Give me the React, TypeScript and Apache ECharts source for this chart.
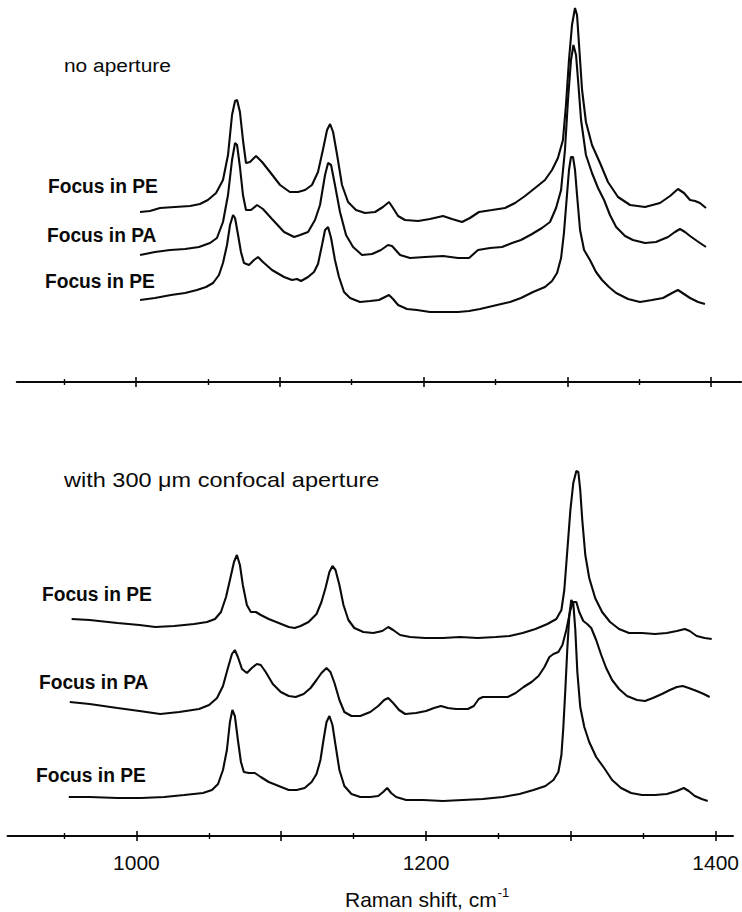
import React, { useEffect, useRef } from 'react';
import * as echarts from 'echarts';

// ---- axis ticks (Raman shift, cm-1) ----
const majorTicks = [1000, 1100, 1200, 1300, 1400];
const minorTicks = [950, 1050, 1150, 1250, 1350];
const labeledTicks = [1000, 1200, 1400];

// ---- panel titles and trace labels ----
const topTitle = 'no aperture';
const bottomTitle = 'with 300 \u03bcm confocal aperture';
const topLabels = ['Focus in PE', 'Focus in PA', 'Focus in PE'];
const bottomLabels = ['Focus in PE', 'Focus in PA', 'Focus in PE'];
const xAxisTitle = 'Raman shift, cm';
const xAxisTitleSup = '-1';

// ---- spectra: [Raman shift cm-1, intensity a.u. (stacked, offset included)] ----
const topPE1: [number, number][] = [
  [1002.8, 170], [1009.7, 171], [1016.7, 174], [1027, 175], [1037.6, 176], [1044.5, 178], [1050, 182],
  [1055.7, 189], [1060.5, 202], [1064, 227], [1066.8, 267], [1068.9, 281], [1070.3, 282], [1072.3, 270],
  [1074.4, 242], [1076.5, 219], [1079.3, 220], [1083.5, 226], [1087.7, 220], [1093.2, 210], [1100.2, 197],
  [1107, 190], [1112.7, 190], [1117.6, 192], [1122.4, 197], [1126.6, 210], [1130, 232], [1132.9, 252],
  [1135, 258], [1137.1, 250], [1139.9, 227], [1143.3, 197], [1147.5, 180], [1153, 172], [1159.3, 169],
  [1166.3, 170], [1171.8, 175], [1176, 180], [1178.8, 174], [1182.3, 166], [1187.1, 162], [1196.2, 161],
  [1204.5, 163], [1213.6, 166], [1219.8, 163], [1226.8, 160], [1232.3, 164], [1238.6, 170], [1247.7, 172],
  [1256.7, 174], [1263.7, 179], [1270.6, 186], [1277.6, 194], [1284.5, 202], [1289.4, 212], [1293.5, 224],
  [1297, 242], [1299.1, 277], [1301.2, 322], [1303.3, 357], [1305.4, 374], [1306.8, 367], [1308.2, 337],
  [1310.3, 292], [1313, 260], [1317.2, 237], [1322.8, 219], [1328.3, 200], [1335.3, 185], [1343.7, 177],
  [1354.1, 175], [1364.5, 179], [1371.5, 186], [1377, 193], [1381.2, 189], [1385.4, 182], [1388.9, 181],
  [1392.3, 179], [1396.5, 174],
];
const topPA: [number, number][] = [
  [1002.8, 127], [1013.2, 130], [1023.7, 132], [1034.1, 133], [1043.8, 135], [1051.5, 139], [1056.3, 144],
  [1060.5, 160], [1064, 187], [1066.8, 222], [1068.9, 239], [1070.3, 237], [1072.3, 215], [1074.4, 187],
  [1076.5, 172], [1080, 172], [1084.2, 177], [1088.3, 173], [1094.6, 163], [1103, 150], [1110, 145],
  [1114.1, 147], [1119.7, 150], [1124.5, 162], [1128, 177], [1131.5, 207], [1133.6, 219], [1135.7, 217],
  [1138.4, 197], [1141.9, 170], [1146.1, 147], [1151, 135], [1157.2, 127], [1164.2, 128], [1170.4, 132],
  [1175.3, 137], [1178.1, 136], [1183.7, 127], [1190.6, 124], [1201, 125], [1213.6, 126], [1224, 124],
  [1231.7, 124], [1237.9, 132], [1246.3, 134], [1254.6, 135], [1261.6, 139], [1267.8, 142], [1275.5, 148],
  [1282.4, 154], [1288, 160], [1292.2, 174], [1295.7, 192], [1298.4, 232], [1300.5, 282], [1302.6, 322],
  [1304.3, 337], [1306.1, 327], [1307.5, 302], [1309.6, 262], [1313, 227], [1317.2, 209], [1321.4, 194],
  [1325.6, 182], [1329.7, 167], [1334, 155], [1340.2, 146], [1345.7, 142], [1354.1, 139], [1361.7, 140],
  [1370.1, 145], [1374.9, 150], [1378.4, 153], [1381.9, 150], [1385.4, 146], [1390.3, 141], [1396.5, 135],
];
const topPE2: [number, number][] = [
  [1002.8, 82], [1013.2, 84], [1024.3, 87], [1034.1, 89], [1042.4, 92], [1048.7, 95], [1053.6, 99],
  [1057.7, 107], [1060.5, 119], [1063.3, 137], [1065.4, 157], [1067.5, 167], [1068.9, 164], [1071, 147],
  [1073, 130], [1075.1, 119], [1078.6, 117], [1082.1, 122], [1084.9, 125], [1088.3, 120], [1094.6, 112],
  [1103, 105], [1108.5, 102], [1112, 103], [1114.8, 101], [1119.7, 105], [1123.8, 110], [1126.6, 118],
  [1129.4, 137], [1131.5, 152], [1133.6, 155], [1135.7, 144], [1138.4, 122], [1141.2, 105], [1144.7, 90],
  [1148.9, 84], [1155.8, 80], [1162.8, 81], [1169, 82], [1173.2, 85], [1176, 87], [1178.8, 83],
  [1182.3, 77], [1188.5, 73], [1195.5, 72], [1204.5, 70], [1215, 70], [1224, 70], [1231.7, 71],
  [1239.3, 73], [1251.1, 77], [1260.2, 80], [1267.8, 84], [1276.2, 90], [1284.5, 95], [1289.4, 101],
  [1292.9, 109], [1295.7, 124], [1297.7, 149], [1299.8, 187], [1301.2, 212], [1302.6, 225], [1304, 225],
  [1305.4, 212], [1306.8, 187], [1308.9, 152], [1311.7, 132], [1315.8, 122], [1320, 110], [1324.2, 102],
  [1329, 95], [1334, 89], [1342.3, 83], [1350.6, 80], [1359, 82], [1366.6, 84], [1372.9, 89], [1377, 92],
  [1381.2, 88], [1385.4, 84], [1391, 80], [1395.8, 78],
];
const bottomPE1: [number, number][] = [
  [955.3, 217], [967.7, 216], [986.9, 213], [1002.1, 211], [1013.1, 209], [1026.1, 210], [1039.9, 212],
  [1048.8, 214], [1054.3, 217], [1058.4, 224], [1061.9, 239], [1064.6, 256], [1067.4, 274], [1069.4, 281],
  [1071.5, 271], [1073.5, 251], [1076.3, 231], [1079, 224], [1082.5, 224], [1085.9, 221], [1091.4, 217],
  [1098.3, 213], [1105.2, 209], [1109.3, 208], [1113.4, 210], [1118.9, 214], [1124.4, 222], [1127.8, 234],
  [1130.6, 248], [1133.3, 264], [1135.4, 270], [1137.5, 266], [1140.2, 251], [1143, 231], [1146.4, 216],
  [1150.5, 208], [1156.7, 204], [1163.6, 203], [1169.8, 205], [1173.9, 209], [1177.3, 206], [1182.1, 201],
  [1189, 199], [1199.3, 198], [1211.7, 198], [1223.4, 199], [1235.7, 198], [1248.1, 199], [1257.7, 200],
  [1266.7, 203], [1275.6, 207], [1283.8, 212], [1290, 217], [1293.5, 226], [1295.5, 246], [1297.6, 286],
  [1299.7, 326], [1301.7, 353], [1303.8, 365], [1305.2, 364], [1306.5, 346], [1307.9, 316], [1310, 281],
  [1312.7, 258], [1316.8, 238], [1321.6, 224], [1327.1, 214], [1333.3, 207], [1340.2, 203], [1349.1, 203],
  [1358.1, 202], [1366.3, 203], [1373.2, 205], [1378.7, 207], [1382.1, 205], [1386.9, 200], [1392.4, 198],
  [1397.3, 197],
];
const bottomPA: [number, number][] = [
  [954, 134], [967.7, 132], [986.9, 128], [1002.1, 125], [1016.5, 122], [1029.6, 124], [1043.3, 127],
  [1050.2, 131], [1055.7, 138], [1059.8, 150], [1063.2, 168], [1066, 182], [1068, 186], [1070.1, 179],
  [1072.9, 167], [1076.3, 163], [1079.7, 168], [1083.2, 172], [1085.9, 171], [1089.3, 164], [1094.2, 152],
  [1099.7, 144], [1105.2, 140], [1110, 139], [1115.5, 142], [1120.3, 148], [1124.4, 156], [1127.8, 163],
  [1131.3, 168], [1134, 164], [1136.8, 153], [1140.2, 136], [1143.6, 124], [1148.5, 120], [1154.6, 120],
  [1161.5, 124], [1167, 130], [1171.1, 136], [1173.9, 138], [1177.3, 133], [1181.4, 126], [1185.6, 122],
  [1193.1, 123], [1200, 125], [1205.5, 128], [1210.3, 130], [1215.1, 128], [1220.6, 127], [1228.9, 127],
  [1233, 130], [1236.4, 137], [1239.2, 139], [1247.4, 139], [1256.4, 139], [1261.9, 143], [1267.4, 149],
  [1272.9, 154], [1277.7, 160], [1281.8, 169], [1285.2, 179], [1288, 182], [1291.4, 184], [1294.2, 191],
  [1296.9, 206], [1299.7, 226], [1301.7, 234], [1303.8, 234], [1305.8, 224], [1308.6, 215], [1311.3, 212],
  [1314.1, 208], [1317.5, 196], [1321, 181], [1324.4, 168], [1328.5, 156], [1333.3, 147], [1338.8, 140],
  [1345.7, 136], [1351.2, 135], [1356.7, 138], [1362.9, 142], [1368.4, 146], [1373.2, 149], [1377.3, 150],
  [1381.4, 148], [1386.9, 145], [1391.8, 142], [1395.9, 139],
];
const bottomPE2: [number, number][] = [
  [953.3, 39], [967.7, 39], [986.9, 38], [1003.4, 38], [1019.2, 39], [1033, 41], [1046, 43], [1052.2, 46],
  [1056.4, 52], [1059.8, 66], [1062.5, 86], [1064.6, 114], [1066.3, 126], [1068, 120], [1070.1, 96],
  [1072.2, 74], [1074.2, 64], [1077.7, 63], [1081.8, 63], [1085.9, 59], [1091.4, 54], [1098.3, 50],
  [1105.2, 46], [1110.7, 46], [1116.2, 48], [1121, 54], [1124.4, 62], [1127.1, 76], [1129.2, 96],
  [1131.3, 114], [1133.3, 120], [1135.4, 111], [1137.5, 91], [1140.2, 66], [1143.6, 50], [1148.5, 42],
  [1154.6, 39], [1161.5, 39], [1167, 40], [1170.4, 44], [1173.2, 48], [1175.9, 43], [1179.4, 39],
  [1186.3, 36], [1197.9, 36], [1211.7, 35], [1225.4, 36], [1239.2, 37], [1252.9, 39], [1264.6, 42],
  [1274.2, 46], [1282.5, 50], [1288, 56], [1291.4, 64], [1293.5, 81], [1294.8, 108], [1296.2, 146],
  [1297.6, 188], [1299, 221], [1300.3, 236], [1301.7, 233], [1303.1, 206], [1304.5, 164], [1306.5, 129],
  [1309.3, 109], [1312.7, 94], [1317.5, 79], [1323, 68], [1328.5, 56], [1334.7, 48], [1341.6, 43],
  [1349.1, 41], [1358.1, 41], [1366.3, 42], [1373.2, 45], [1378, 48], [1381.4, 45], [1385.6, 40],
  [1390.4, 37], [1394.5, 35],
];

const INK = '#0a0a0a';
const FONT = '"Liberation Sans", Arial, sans-serif';

function tickAxes(gridIndex: number, min: number, max: number, withLabels: boolean, majorLen: number, minorLen: number) {
  const base = {
    type: 'value' as const,
    gridIndex,
    min,
    max,
    position: 'bottom' as const,
    splitLine: { show: false },
  };
  return [
    {
      ...base,
      axisLine: { show: true, lineStyle: { color: INK, width: 1.9 } },
      axisTick: { show: true, inside: false, length: majorLen, customValues: majorTicks, lineStyle: { color: INK, width: 1.6 } },
      axisLabel: withLabels
        ? { show: true, customValues: labeledTicks, fontSize: 21, color: INK, fontFamily: FONT, margin: 16, formatter: (v: number) => String(v) }
        : { show: false },
    },
    {
      ...base,
      axisLine: { show: false },
      axisTick: { show: true, inside: true, length: majorLen, customValues: majorTicks, lineStyle: { color: INK, width: 1.6 } },
      axisLabel: { show: false },
    },
    {
      ...base,
      axisLine: { show: false },
      axisTick: { show: true, inside: false, length: minorLen, customValues: minorTicks, lineStyle: { color: INK, width: 1.4 } },
      axisLabel: { show: false },
    },
    {
      ...base,
      axisLine: { show: false },
      axisTick: { show: true, inside: true, length: minorLen, customValues: minorTicks, lineStyle: { color: INK, width: 1.4 } },
      axisLabel: { show: false },
    },
  ];
}

function spectrum(data: [number, number][], xAxisIndex: number, yAxisIndex: number) {
  return {
    type: 'line' as const,
    data,
    xAxisIndex,
    yAxisIndex,
    showSymbol: false,
    symbol: 'none',
    smooth: false,
    lineStyle: { color: INK, width: 2.1 },
    emphasis: { disabled: true },
    silent: true,
  };
}

function label(text: string, x: number, y: number, size: number, bold: boolean, sx: number) {
  return {
    type: 'text' as const,
    x,
    y,
    scaleX: sx,
    style: {
      text,
      fill: INK,
      font: `${bold ? 'bold ' : ''}${size}px ${FONT}`,
      textAlign: 'left',
      textVerticalAlign: 'middle',
    },
  };
}

export default function App() {
  const ref = useRef<HTMLDivElement>(null);
  useEffect(() => {
    if (!ref.current) return;
    const chart = echarts.init(ref.current, null, { renderer: 'svg' });
    const option = {
      animation: false,
      backgroundColor: '#fff',
      grid: [
        { left: 16.7, width: 724.5, top: 0, height: 382, containLabel: false },
        { left: 7.5, width: 729, top: 440, height: 396, containLabel: false },
      ],
      xAxis: [
        ...tickAxes(0, 917, 1421, false, 5, 3),
        ...tickAxes(1, 911, 1412, true, 5, 3),
      ],
      yAxis: [
        { type: 'value', gridIndex: 0, min: 0, max: 382, show: false },
        { type: 'value', gridIndex: 1, min: 0, max: 396, show: false },
      ],
      series: [
        spectrum(topPE1, 0, 0),
        spectrum(topPA, 0, 0),
        spectrum(topPE2, 0, 0),
        spectrum(bottomPE1, 4, 1),
        spectrum(bottomPA, 4, 1),
        spectrum(bottomPE2, 4, 1),
      ],
      graphic: [
        label(topTitle, 64, 65, 19, false, 1.1),
        label(topLabels[0], 48, 186, 20, true, 0.96),
        label(topLabels[1], 47, 235, 20, true, 0.96),
        label(topLabels[2], 45, 281, 20, true, 0.96),
        label(bottomTitle, 64, 480, 21, false, 1.12),
        label(bottomLabels[0], 42, 594, 20, true, 0.96),
        label(bottomLabels[1], 39, 682, 20, true, 0.96),
        label(bottomLabels[2], 36, 775, 20, true, 0.96),
        label(xAxisTitle, 345, 899, 21, false, 1),
        label(xAxisTitleSup, 0, 0, 13, false, 1),
      ],
    };
    // place the superscript right after the axis title text
    const titleWidth = (echarts.format as any).getTextRect
      ? (echarts.format as any).getTextRect(xAxisTitle, `21px ${FONT}`)?.width
      : undefined;
    const w = typeof titleWidth === 'number' ? titleWidth : 156;
    (option.graphic[9] as any).x = 345 + w + 1;
    (option.graphic[9] as any).y = 892;
    chart.setOption(option as any);
    return () => chart.dispose();
  }, []);
  return (
    <div
      ref={ref}
      style={{ position: 'fixed', left: 0, top: 0, width: 742, height: 912, background: '#fff' }}
    />
  );
}
